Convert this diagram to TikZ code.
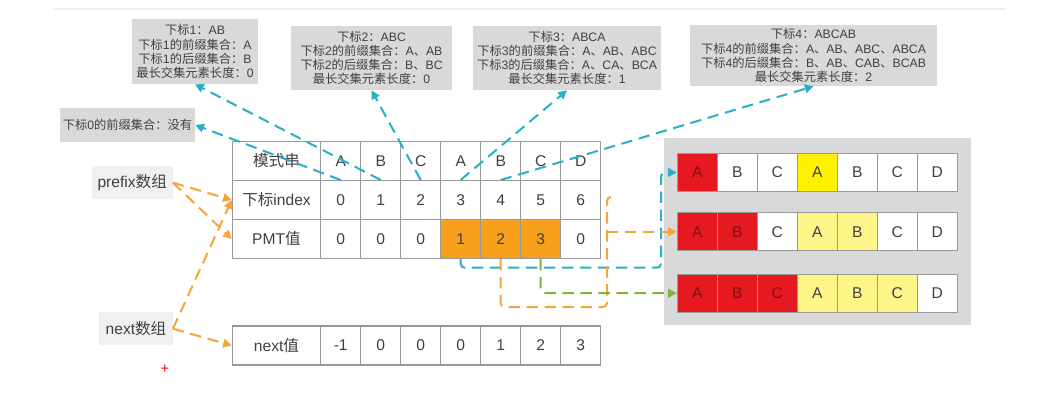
\documentclass[tikz,border=0pt]{standalone}
\usepackage{fontspec}
\setmainfont{Liberation Sans}
\newfontfamily\cjk{Noto Sans CJK SC}
\newcommand\zh[1]{{\cjk #1}}
\usetikzlibrary{arrows.meta}
\definecolor{txt}{HTML}{404040}
\definecolor{callfill}{HTML}{D9D9D9}
\definecolor{lblfill}{HTML}{F0F0F0}
\definecolor{cellline}{HTML}{999999}
\definecolor{corange}{HTML}{F7A01E}
\definecolor{cteal}{HTML}{2AB0C6}
\definecolor{cgreen}{HTML}{7DB43A}
\definecolor{carrow}{HTML}{F5A53A}
\definecolor{myred}{HTML}{E5191F}
\definecolor{redtxt}{HTML}{7A1414}
\definecolor{myyellow}{HTML}{FFF100}
\definecolor{lightyellow}{HTML}{FFF68A}
\definecolor{panelfill}{HTML}{D9D9D9}
\definecolor{topline}{HTML}{EEEEEE}
\tikzset{
  callout/.style={fill=callfill, text=txt, align=center, inner sep=0pt,
    font=\fontsize{9.2pt}{10.6pt}\selectfont},
  cell/.style={draw=cellline, line width=0.8pt, minimum width=30pt,
    minimum height=29.25pt, inner sep=0pt, text=txt, fill=white,
    font=\fontsize{11.7pt}{14pt}\selectfont},
  headcell/.style={cell, minimum width=66.3pt},
  pcell/.style={draw=cellline, line width=0.8pt, minimum width=30pt,
    minimum height=28.5pt, inner sep=0pt, fill=white, text=txt,
    font=\fontsize{11.7pt}{14pt}\selectfont},
  lbl/.style={fill=lblfill, text=txt, inner sep=0pt,
    font=\fontsize{11.7pt}{14pt}\selectfont},
  dashline/.style={line width=1.5pt, dash pattern=on 8.5pt off 5pt},
  tip/.style={-{Triangle[length=6.5pt,width=6.5pt]}},
}
\begin{document}
\begin{tikzpicture}[x=0.75pt,y=-0.75pt]
\useasboundingbox (0,0) rectangle (1049,417);
\fill[white] (0,0) rectangle (1049,417);
% top faint line
\coordinate (tl1) at (53,9.5);
\coordinate (tl2) at (1005,9.5);
\draw[topline, line width=1.5pt] (tl1) -- (tl2);

% callouts
\node[callout, minimum width=101.25pt, minimum height=25.5pt] (c0) at (127.5,125) {\zh{下标}0\zh{的前缀集合：没有}};
\node[callout, minimum width=94.5pt, minimum height=48.75pt] (c1) at (195,51.5) {\zh{下标}1\zh{：}AB\\\zh{下标}1\zh{的前缀集合：}A\\\zh{下标}1\zh{的后缀集合：}B\\\zh{最长交集元素长度：}0};
\node[callout, minimum width=120.75pt, minimum height=48pt] (c2) at (371.5,58) {\zh{下标}2\zh{：}ABC\\\zh{下标}2\zh{的前缀集合：}A\zh{、}AB\\\zh{下标}2\zh{的后缀集合：}B\zh{、}BC\\\zh{最长交集元素长度：}0};
\node[callout, minimum width=141pt, minimum height=48pt] (c3) at (567,58) {\zh{下标}3\zh{：}ABCA\\\zh{下标}3\zh{的前缀集合：}A\zh{、}AB\zh{、}ABC\\\zh{下标}3\zh{的后缀集合：}A\zh{、}CA\zh{、}BCA\\\zh{最长交集元素长度：}1};
\node[callout, minimum width=185.25pt, minimum height=45.75pt] (c4) at (813.5,55.5) {\zh{下标}4\zh{：}ABCAB\\\zh{下标}4\zh{的前缀集合：}A\zh{、}AB\zh{、}ABC\zh{、}ABCA\\\zh{下标}4\zh{的后缀集合：}B\zh{、}AB\zh{、}CAB\zh{、}BCAB\\\zh{最长交集元素长度：}2};

% left labels
\node[lbl, minimum width=60.75pt, minimum height=24.75pt] (pre) at (132.2,182.7) {prefix\zh{数组}};
\node[lbl, minimum width=55pt, minimum height=24.5pt] (nxt) at (136,328.7) {next\zh{数组}};

% main table
\node[headcell] (mh) at (276.5,161) {\zh{模式串}};
\node[headcell] (ih) at (276.5,200) {\zh{下标}index};
\node[headcell] (ph) at (276.5,239) {PMT\zh{值}};
\node[headcell] (nh) at (276.5,345.5) {next\zh{值}};
\foreach \v [count=\i from 0] in {A,B,C,A,B,C,D}
  \node[cell] (m\i) at ({340.7+40*\i},161) {\v};
\foreach \v [count=\i from 0] in {0,1,2,3,4,5,6}
  \node[cell] (i\i) at ({340.7+40*\i},200) {\v};
\foreach \v/\f [count=\i from 0] in {0/white,0/white,0/white,1/corange,2/corange,3/corange,0/white}
  \node[cell, fill=\f] (p\i) at ({340.7+40*\i},239) {\v};
\foreach \v [count=\i from 0] in {-1,0,0,0,1,2,3}
  \node[cell] (n\i) at ({340.7+40*\i},345.5) {\v};

% right panel
\fill[panelfill] (664,138) rectangle (971,325);
\foreach \v/\f/\t [count=\i from 0] in {A/myred/redtxt,B/white/txt,C/white/txt,A/myyellow/txt,B/white/txt,C/white/txt,D/white/txt}
  \node[pcell, fill=\f, text=\t] (ra\i) at ({697.3+40*\i},172.5) {\v};
\foreach \v/\f/\t [count=\i from 0] in {A/myred/redtxt,B/myred/redtxt,C/white/txt,A/lightyellow/txt,B/lightyellow/txt,C/white/txt,D/white/txt}
  \node[pcell, fill=\f, text=\t] (rb\i) at ({697.3+40*\i},231.7) {\v};
\foreach \v/\f/\t [count=\i from 0] in {A/myred/redtxt,B/myred/redtxt,C/myred/redtxt,A/lightyellow/txt,B/lightyellow/txt,C/lightyellow/txt,D/white/txt}
  \node[pcell, fill=\f, text=\t] (rc\i) at ({697.3+40*\i},293.2) {\v};

% orange arrows from labels
\draw[dashline, carrow, tip] (pre.east) -- (ih.west);
\draw[dashline, carrow, tip] (pre.east) -- (ph.west);
\draw[dashline, carrow, tip] (nxt.east) -- (ih.west);
\draw[dashline, carrow, tip] (nxt.east) -- (nh.west);

% teal arrows to callouts
\draw[dashline, cteal, tip] (i0.north) -- (c0.east);
\draw[dashline, cteal, tip] (i1.north) -- (c1.south);
\draw[dashline, cteal, tip] (i2.north) -- (c2.south);
\draw[dashline, cteal, tip] (i3.north) -- (c3.south);
\draw[dashline, cteal, tip] (i4.north) -- (c4.south);

% elbow connectors to the right panel
\coordinate (bt) at (661,267.7);
\draw[dashline, cteal, tip, rounded corners=3pt] (p3.south) |- (bt) |- (ra0.west);
\coordinate (ot) at (607,307);
\coordinate (otop) at (607,197);
\coordinate (ohook) at (611,197);
\draw[dashline, carrow, rounded corners=3pt] (p4.south) |- (ot) -- (otop) -- (ohook);
\coordinate (ob) at (607,231.7);
\draw[dashline, carrow, tip] (ob) -- (rb0.west);
\draw[dashline, cgreen, tip, rounded corners=3pt] (p5.south) |- (rc0.west);

% red plus mark
\node[text=red, inner sep=0pt, font=\fontsize{11pt}{12pt}\selectfont] (plus) at (165,369.3) {+};
\end{tikzpicture}
\end{document}
